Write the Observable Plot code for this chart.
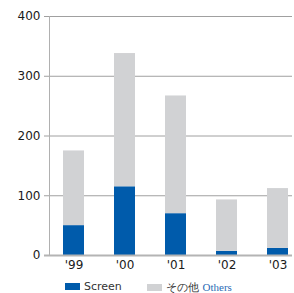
<!DOCTYPE html>
<html><head><meta charset="utf-8">
<script src="https://cdn.jsdelivr.net/npm/d3@7"></script>
<script src="https://cdn.jsdelivr.net/npm/@observablehq/plot@0.6"></script>
<style>
body{margin:0;background:#fff;}
#chart svg{display:block;}
.legend{height:18px;font-family:"DejaVu Sans",sans-serif;font-size:11px;color:#333;position:relative;}
.sw{display:inline-block;width:15px;height:7px;margin-right:4px;}
</style></head>
<body><div id="chart"></div>
<script>
const years = ["'99","'00","'01","'02","'03"];
const screen = [50, 115, 70, 7, 12];
const others = [125, 223, 197, 86, 100];
const seriesNames = ["Screen", "Others"];
const colors = ["#005bab", "#d1d2d4"];
const yTicks = [0, 100, 200, 300, 400];

const data = [];
years.forEach((y,i)=>{
  data.push({year:y, series:"Screen", value:screen[i]});
  data.push({year:y, series:"Others", value:others[i]});
});

const plot = Plot.plot({
  width: 294, height: 275,
  marginTop: 16, marginBottom: 20, marginLeft: 49, marginRight: 2,
  style: {fontFamily: "DejaVu Sans, sans-serif", fontSize: "12px", color: "#222"},
  x: {domain: years, range: [48, 303], paddingInner: 0.59, paddingOuter: 0.295, label: null},
  y: {domain: [0, 400], ticks: yTicks, label: null},
  color: {domain: seriesNames, range: colors},
  marks: [
    Plot.gridY(yTicks.slice(1), {stroke:"#a0a0a0", strokeOpacity:1, strokeWidth:1, insetLeft:-5}),
    Plot.barY(data, {x:"year", y:"value", fill:"series", order: seriesNames}),
    Plot.frame({anchor:"left", stroke:"#b0b0b0"}),
    Plot.ruleY([0], {stroke:"#b4b4b4", strokeWidth:2, insetLeft:-5}),
    Plot.axisY(yTicks, {tickSize:0, tickPadding:9, fill:"#1a1a1a", stroke:"#1a1a1a", strokeWidth:0.35}),
    Plot.axisX({tickSize:0, tickPadding:5, fill:"#1a1a1a", stroke:"#1a1a1a", strokeWidth:0.35})
  ]
});
document.getElementById("chart").appendChild(plot);

const leg = document.createElement("div");
leg.className = "legend";
const items = [
  {left:65, color:colors[0], html:"Screen"},
  {left:147, color:colors[1], html:'その他 <span style="font-family:\'Liberation Serif\',serif;color:#2b6cb5;font-size:11px">Others</span>'}
];
items.forEach(it=>{
  const s = document.createElement("span");
  s.style.position="absolute"; s.style.left=it.left+"px"; s.style.top="5px";
  s.style.display="flex"; s.style.alignItems="center";
  s.innerHTML = `<span class="sw" style="background:${it.color}"></span><span>${it.html}</span>`;
  leg.appendChild(s);
});
document.body.appendChild(leg);
</script></body></html>
